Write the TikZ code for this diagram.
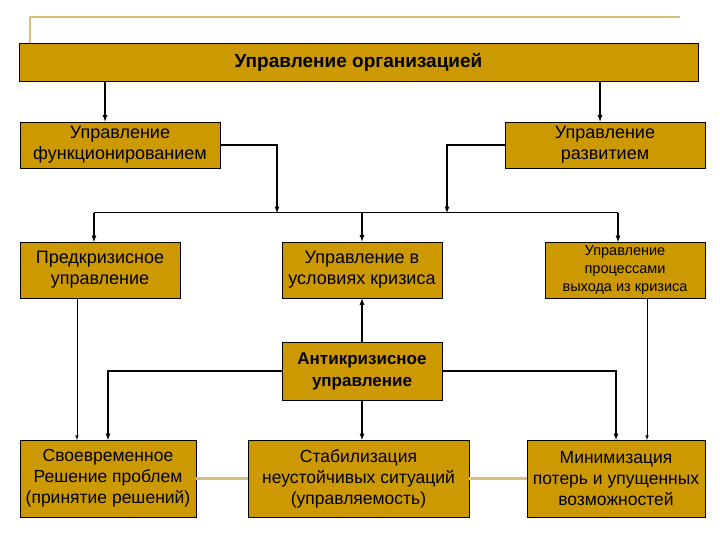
\documentclass[tikz,border=0pt]{standalone}
\usepackage{fontspec}
\setmainfont{Liberation Sans}
\begin{document}
\begin{tikzpicture}[x=1pt,y=-1pt,
  box/.style={draw=black,fill=gold,line width=0.8pt,inner sep=1pt,align=center,font=\fontsize{18}{21}\selectfont},
  ar/.style={-latex,line width=1.2pt},
  thin/.style={-latex,line width=0.6pt},
  tan/.style={draw=tanc,line width=2.5pt}]
\definecolor{gold}{HTML}{CC9900}
\definecolor{tanc}{HTML}{D8C07A}
\useasboundingbox (0,0) rectangle (720,540);
\fill[white] (0,0) rectangle (720,540);
\draw[tanc,line width=1.5pt] (30,43) -- (30,17) -- (680,17);
\node[box,minimum width=679pt,minimum height=38pt,font=\fontsize{19}{22}\selectfont\bfseries] (top) at (358.5,62) {Управление организацией};
\node[box,minimum width=200pt,minimum height=46pt] (func) at (120,145) {Управление\\функционированием};
\node[box,minimum width=200pt,minimum height=46pt] (dev) at (605,145) {Управление\\развитием};
\node[box,minimum width=160pt,minimum height=56pt] (pre) at (100,270) {Предкризисное\\управление};
\node[box,minimum width=160pt,minimum height=56pt] (cri) at (362,270) {Управление в\\условиях кризиса};
\node[box,minimum width=160pt,minimum height=56pt,font=\fontsize{14.5}{18}\selectfont] (ext) at (625,270) {Управление\\процессами\\выхода из кризиса};
\node[box,minimum width=160pt,minimum height=58pt,font=\fontsize{17}{22}\selectfont\bfseries] (anti) at (362,371) {Антикризисное\\управление};
\node[box,minimum width=176pt,minimum height=77pt,font=\fontsize{17.5}{21}\selectfont] (b1) at (108,478.5) {Своевременное\\Решение проблем\\(принятие решений)};
\node[box,minimum width=221pt,minimum height=77pt,font=\fontsize{17.5}{21}\selectfont] (b2) at (358.5,478.5) {Стабилизация\\неустойчивых ситуаций\\(управляемость)};
\node[box,minimum width=178pt,minimum height=77pt,font=\fontsize{17.5}{21}\selectfont] (b3) at (616,478.5) {Минимизация\\потерь и упущенных\\возможностей};
\draw[tan] (b1.east) -- (b2.west);
\draw[tan] (b2.east) -- (b3.west);
\draw[ar] (top.south -| func.north) ++(-15,0) coordinate (t1) -- (t1 |- func.north);
\draw[ar] (top.south -| dev.north) ++(-5,0) coordinate (t2) -- (t2 |- func.north);
\coordinate (j1) at (277,213); \coordinate (j2) at (447,213);
\draw[ar] (func.east) -| (j1);
\draw[ar] (dev.west) -| (j2);
\draw[line width=1pt] (94,213) -- (618,213);
\draw[ar] (94,213) -- (94,242);
\draw[ar] (362,213) -- (cri.north);
\draw[ar] (618,213) -- (618,242);
\draw[ar] (anti.north) -- (cri.south);
\draw[ar] (anti.west) -| (108,440);
\draw[ar] (anti.east) -| (616,440);
\draw[ar] (anti.south) -- (362,440);
\draw[thin] (77,298) -- (77,440);
\draw[thin] (647,298) -- (647,440);
\end{tikzpicture}
\end{document}
